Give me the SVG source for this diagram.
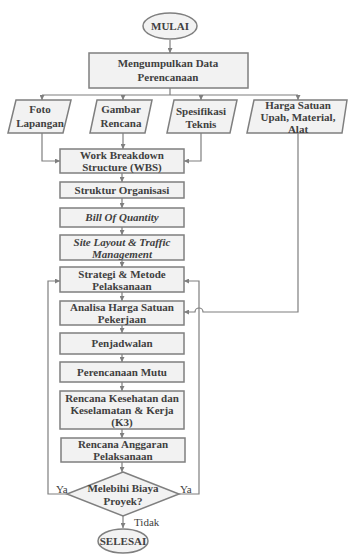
<svg xmlns="http://www.w3.org/2000/svg" width="348" height="554" viewBox="0 0 348 554">
<style>
.n{fill:#f2f2f2;stroke:#7f7f7f;stroke-width:1.5}
.t{font-family:"Liberation Serif",serif;font-weight:bold;font-size:11px;fill:#404040;text-anchor:middle}
.i{font-style:italic}
.l{font-family:"Liberation Serif",serif;font-size:11px;fill:#404040}
.c{fill:none;stroke:#7f7f7f;stroke-width:1.2}
</style>
<defs>
<marker id="a" viewBox="0 0 8 8" refX="8" refY="4" markerWidth="5" markerHeight="5" orient="auto" markerUnits="userSpaceOnUse">
<path d="M0,0L8,4L0,8z" fill="#7f7f7f"/>
</marker>
</defs>
<rect width="348" height="554" fill="#fff"/>
<g id="connectors">
<path class="c" d="M170,40V53" marker-end="url(#a)"/>
<path class="c" d="M170,88V95M42,95H298"/>
<path class="c" d="M42,95V100" marker-end="url(#a)"/>
<path class="c" d="M123,95V100" marker-end="url(#a)"/>
<path class="c" d="M201,95V100" marker-end="url(#a)"/>
<path class="c" d="M298,95V100" marker-end="url(#a)"/>
<path class="c" d="M42,133V161H60" marker-end="url(#a)"/>
<path class="c" d="M123,133V149" marker-end="url(#a)"/>
<path class="c" d="M201,133V161H184" marker-end="url(#a)"/>
<path class="c" d="M298,133V312H203A4,4 0 0 0 195,312H184" marker-end="url(#a)"/>
<path class="c" d="M122,173V182" marker-end="url(#a)"/>
<path class="c" d="M122,198V208" marker-end="url(#a)"/>
<path class="c" d="M122,227V235" marker-end="url(#a)"/>
<path class="c" d="M122,260V267" marker-end="url(#a)"/>
<path class="c" d="M122,292V301" marker-end="url(#a)"/>
<path class="c" d="M122,325V333" marker-end="url(#a)"/>
<path class="c" d="M122,354V362" marker-end="url(#a)"/>
<path class="c" d="M122,382V391" marker-end="url(#a)"/>
<path class="c" d="M122,429V438" marker-end="url(#a)"/>
<path class="c" d="M122,462V472" marker-end="url(#a)"/>
<path class="c" d="M67,494H48V281H60" marker-end="url(#a)"/>
<path class="c" d="M179,494H199V281H184" marker-end="url(#a)"/>
<path class="c" d="M123,516V528" marker-end="url(#a)"/>
<text class="l" x="56" y="493">Ya</text>
<text class="l" x="180" y="493">Ya</text>
<text class="l" x="134" y="526">Tidak</text>
</g>
<g id="mulai"><ellipse class="n" cx="170" cy="26" rx="27" ry="13"/><text class="t" x="170" y="30">MULAI</text></g>
<g id="mengumpulkan"><rect class="n" x="89" y="53" width="159" height="35"/><text class="t" x="168" y="67">Mengumpulkan Data</text><text class="t" x="168" y="81">Perencanaan</text></g>
<g id="foto"><polygon class="n" points="16,100 71,100 63,133 8,133"/><text class="t" x="40" y="113">Foto</text><text class="t" x="40" y="127">Lapangan</text></g>
<g id="gambar"><polygon class="n" points="97,100 152,100 145,133 90,133"/><text class="t" x="121" y="113">Gambar</text><text class="t" x="121" y="127">Rencana</text></g>
<g id="spesifikasi"><polygon class="n" points="174,100 237,100 230,133 167,133"/><text class="t" x="201" y="115">Spesifikasi</text><text class="t" x="201" y="128">Teknis</text></g>
<g id="harga"><polygon class="n" points="254,100 347,100 342,133 247,133"/><text class="t" x="298" y="109">Harga Satuan</text><text class="t" x="298" y="121">Upah, Material,</text><text class="t" x="298" y="133">Alat</text></g>
<g id="wbs"><rect class="n" x="60" y="149" width="124" height="24"/><text class="t" x="122" y="159">Work Breakdown</text><text class="t" x="122" y="171">Structure (WBS)</text></g>
<g id="struktur"><rect class="n" x="60" y="182" width="124" height="16"/><text class="t" x="122" y="194">Struktur Organisasi</text></g>
<g id="boq"><rect class="n" x="60" y="208" width="124" height="19"/><text class="t i" x="122" y="221">Bill Of Quantity</text></g>
<g id="site"><rect class="n" x="60" y="235" width="124" height="25"/><text class="t i" x="122" y="246">Site Layout &amp; Traffic</text><text class="t i" x="122" y="258">Management</text></g>
<g id="strategi"><rect class="n" x="60" y="267" width="124" height="25"/><text class="t" x="122" y="278">Strategi &amp; Metode</text><text class="t" x="122" y="290">Pelaksanaan</text></g>
<g id="analisa"><rect class="n" x="60" y="301" width="124" height="24"/><text class="t" x="122" y="311">Analisa Harga Satuan</text><text class="t" x="122" y="323">Pekerjaan</text></g>
<g id="penjadwalan"><rect class="n" x="60" y="333" width="124" height="21"/><text class="t" x="122" y="347">Penjadwalan</text></g>
<g id="mutu"><rect class="n" x="60" y="362" width="124" height="20"/><text class="t" x="122" y="376">Perencanaan Mutu</text></g>
<g id="k3"><rect class="n" x="60" y="391" width="124" height="38"/><text class="t" x="122" y="402">Rencana Kesehatan dan</text><text class="t" x="122" y="414">Keselamatan &amp; Kerja</text><text class="t" x="122" y="426">(K3)</text></g>
<g id="anggaran"><rect class="n" x="61" y="438" width="124" height="24"/><text class="t" x="123" y="448">Rencana Anggaran</text><text class="t" x="123" y="460">Pelaksanaan</text></g>
<g id="keputusan"><polygon class="n" points="123,472 179,494 123,516 67,494"/><text class="t" x="123" y="492">Melebihi Biaya</text><text class="t" x="123" y="505">Proyek?</text></g>
<g id="selesai"><ellipse class="n" cx="123" cy="541" rx="25" ry="12"/><text class="t" x="123" y="545">SELESAI</text></g>
</svg>
